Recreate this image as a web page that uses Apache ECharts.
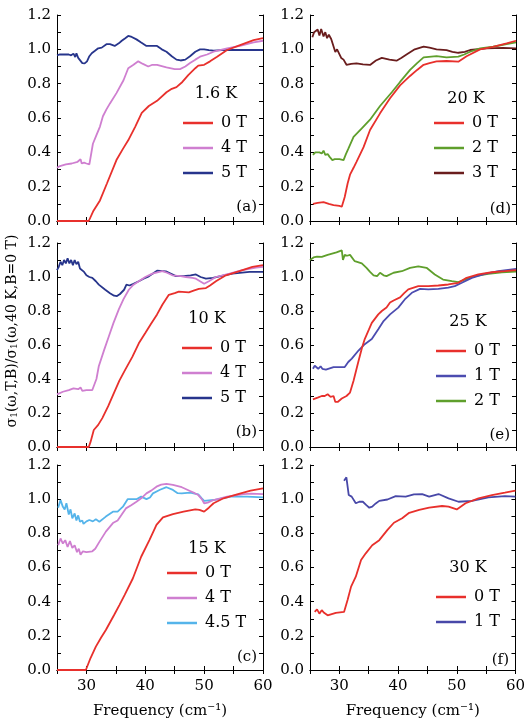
<!DOCTYPE html>
<html>
<head>
<meta charset="utf-8">
<script src="https://cdn.jsdelivr.net/npm/echarts@6/dist/echarts.min.js"></script>
<style>html,body{margin:0;padding:0;background:#fff;}#c{width:528px;height:724px;}</style>
</head>
<body>
<div id="c"></div>
<script>
// ---------- data (frequency cm^-1, normalized sigma1) ----------
const a0 = [[25,0],[30.4,0],[31.2,0.06],[32.3,0.12],[33.5,0.22],[35.1,0.355],[36.2,0.42],[37.1,0.47],[38.3,0.55],[39.4,0.63],[40.6,0.67],[42,0.70],[43.6,0.75],[44.5,0.77],[45.3,0.78],[46.3,0.81],[47.3,0.85],[48.5,0.89],[49,0.905],[50,0.91],[51,0.93],[52.2,0.957],[53.9,0.996],[56.1,1.025],[58.4,1.054],[60,1.065]];
const a4 = [[25,0.31],[25.5,0.32],[26.5,0.33],[27.5,0.335],[28.5,0.345],[29,0.36],[29.2,0.335],[29.6,0.34],[30,0.335],[30.5,0.33],[31.1,0.45],[31.7,0.5],[32.3,0.55],[32.8,0.61],[33.4,0.65],[34,0.685],[35.1,0.745],[36.3,0.82],[37.1,0.89],[38,0.91],[38.8,0.93],[39.6,0.915],[40.5,0.90],[41.2,0.91],[42,0.91],[43.6,0.895],[45,0.885],[45.9,0.885],[46.8,0.9],[47.6,0.92],[48.5,0.94],[49.3,0.957],[50.5,0.97],[51.6,0.986],[53.9,1.005],[56.1,1.02],[58.4,1.04],[60,1.05]];
const a5 = [[25,0.965],[25.5,0.97],[27,0.97],[27.4,0.965],[27.8,0.975],[28.1,0.955],[28.3,0.977],[28.6,0.95],[28.9,0.948],[29.3,0.92],[29.7,0.918],[30.1,0.93],[30.5,0.96],[30.9,0.977],[31.4,0.99],[32,1.006],[32.6,1.01],[33.4,1.03],[34,1.03],[34.8,1.02],[35.5,1.035],[36,1.05],[36.6,1.065],[37.1,1.078],[37.7,1.072],[38.5,1.058],[39.3,1.04],[40.2,1.02],[41,1.02],[42,1.02],[42.8,1.0],[43.6,0.986],[44.5,0.96],[45.3,0.94],[46,0.935],[46.8,0.94],[47.6,0.96],[48.5,0.986],[49.3,1.0],[50,1.0],[50.8,0.995],[51.6,0.992],[53,0.995],[55,0.996],[60,0.996]];

const b0 = [[25,0],[30.4,0],[30.7,0.03],[31.25,0.10],[32,0.13],[32.7,0.17],[33.7,0.24],[34.7,0.32],[35.6,0.39],[36.6,0.455],[37.8,0.53],[38.9,0.61],[40,0.67],[40.9,0.72],[42,0.78],[42.9,0.837],[44,0.895],[45,0.905],[45.7,0.914],[47.4,0.91],[48.2,0.92],[49.1,0.93],[50.3,0.935],[51,0.95],[52,0.975],[53.7,1.01],[56,1.035],[58.2,1.06],[60,1.07]];
const b4 = [[25,0.31],[26,0.325],[27,0.335],[27.8,0.345],[28.1,0.355],[28.6,0.34],[29,0.35],[29.3,0.33],[30,0.335],[31,0.335],[31.3,0.34],[31.7,0.40],[32.1,0.475],[33,0.57],[33.8,0.65],[34.6,0.73],[35.5,0.81],[36.3,0.87],[37.2,0.925],[38,0.955],[38.9,0.975],[40,1.0],[41.2,1.02],[42.9,1.035],[43.7,1.025],[44.6,1.01],[46,1.005],[46.9,1.0],[48,0.995],[48.6,0.99],[49.3,0.975],[50,0.96],[50.8,0.975],[52,1.0],[54.3,1.02],[56.5,1.04],[58.8,1.055],[60,1.06]];
const b5 = [[25,1.04],[25.3,1.06],[25.6,1.09],[25.9,1.07],[26.2,1.10],[26.5,1.08],[26.8,1.11],[27.1,1.08],[27.4,1.10],[27.7,1.07],[28,1.10],[28.3,1.075],[28.6,1.09],[28.9,1.05],[29.2,1.06],[29.6,1.03],[30,1.01],[30.5,1.0],[31,0.995],[31.6,0.975],[32.1,0.955],[33.2,0.925],[34,0.905],[34.7,0.89],[35.2,0.888],[35.7,0.9],[36.4,0.925],[36.8,0.955],[37.3,0.95],[38,0.96],[38.9,0.975],[39.7,0.99],[40.6,1.004],[41.3,1.02],[42,1.037],[43.5,1.033],[44.3,1.02],[45.2,1.005],[46.5,1.005],[47.7,1.01],[48.6,1.015],[49.4,1.0],[50.3,0.99],[51.5,0.995],[52.6,1.004],[54.8,1.02],[57.7,1.03],[60,1.03]];

const c0 = [[25,0],[29.9,0],[30.7,0.07],[31.6,0.137],[32.5,0.19],[33.3,0.234],[34.7,0.322],[35.6,0.38],[36.5,0.44],[37.9,0.537],[38.6,0.6],[39.3,0.663],[40.7,0.76],[41.9,0.85],[43,0.893],[44.7,0.913],[46.5,0.927],[48.5,0.94],[49.2,0.937],[50,0.927],[50.8,0.95],[51.6,0.976],[53.3,1.005],[55.6,1.028],[57.9,1.05],[60,1.063]];
const c4 = [[25.2,0.73],[25.6,0.77],[26,0.74],[26.4,0.76],[26.8,0.72],[27.2,0.755],[27.6,0.715],[28,0.73],[28.4,0.69],[28.7,0.71],[29,0.675],[29.4,0.695],[30,0.69],[31,0.695],[31.5,0.71],[32.2,0.75],[33.3,0.81],[34.5,0.86],[35.3,0.875],[36,0.91],[36.7,0.946],[37.6,0.965],[38.5,0.985],[39.3,1.005],[40.2,1.034],[41,1.05],[41.9,1.073],[42.7,1.085],[43.6,1.09],[44.7,1.083],[46.2,1.07],[47.6,1.048],[48.4,1.035],[49,1.024],[49.6,1.0],[50,0.976],[50.6,0.98],[51.6,0.995],[53.9,1.015],[56.7,1.03],[58,1.032],[60,1.03]];
const c45 = [[25.2,0.95],[25.6,0.995],[26,0.955],[26.3,0.94],[26.6,0.976],[27,0.91],[27.3,0.94],[27.6,0.888],[28,0.917],[28.3,0.875],[28.6,0.905],[28.9,0.868],[29.3,0.875],[29.5,0.855],[30,0.87],[30.5,0.878],[31.1,0.87],[31.6,0.882],[32.2,0.868],[33.3,0.898],[34,0.915],[34.5,0.927],[35.3,0.927],[36.2,0.956],[37,1.0],[38.5,1.0],[39.3,1.015],[40.2,1.0],[40.8,1.01],[41.3,1.034],[42.5,1.055],[43.6,1.07],[44.7,1.054],[45.5,1.035],[46.2,1.034],[47.6,1.038],[49,1.028],[49.6,1.005],[50,0.99],[51.6,0.995],[54.5,1.015],[57.3,1.015],[60,1.01]];

const d0 = [[25.5,0.10],[26.3,0.105],[27.3,0.11],[28.2,0.1],[29,0.093],[30,0.088],[30.4,0.083],[30.9,0.14],[31.4,0.22],[31.8,0.27],[32.4,0.31],[32.9,0.345],[34.1,0.43],[35.2,0.53],[36.9,0.627],[38.6,0.715],[40.3,0.79],[42,0.845],[43.2,0.88],[44.3,0.91],[45.3,0.92],[46.5,0.93],[48.2,0.932],[50.2,0.928],[51.6,0.96],[53.9,1.0],[56.1,1.015],[58.4,1.035],[60,1.05]];
const d2 = [[25.5,0.385],[25.9,0.40],[26.2,0.395],[26.6,0.40],[27,0.393],[27.3,0.41],[27.6,0.385],[28,0.39],[28.3,0.375],[28.6,0.383],[28.8,0.355],[29.2,0.36],[30,0.36],[30.7,0.355],[31.1,0.39],[31.5,0.42],[32.4,0.49],[33.8,0.54],[35.2,0.59],[36.9,0.67],[38.9,0.75],[40.3,0.81],[42,0.88],[43.2,0.92],[44.3,0.953],[46.5,0.96],[48.2,0.953],[50.2,0.957],[51.2,0.97],[52.2,0.986],[53.9,1.005],[56.1,1.015],[58.4,1.03],[60,1.04]];
const d3 = [[25.4,1.07],[25.7,1.10],[26,1.09],[26.3,1.115],[26.6,1.08],[26.9,1.118],[27.3,1.075],[27.6,1.10],[27.9,1.065],[28.2,1.085],[28.6,1.06],[28.9,1.065],[29.3,0.985],[29.6,1.0],[29.9,1.01],[30.3,0.95],[30.7,0.94],[31.2,0.91],[32,0.915],[32.9,0.918],[34,0.912],[35.2,0.909],[36.2,0.935],[37.2,0.95],[38.5,0.94],[39.7,0.934],[40.5,0.95],[41.4,0.97],[42.8,1.0],[44.3,1.016],[45.3,1.01],[46.5,1.0],[48.2,0.995],[49.2,0.985],[50.2,0.98],[51.3,0.985],[52.2,0.996],[55,1.006],[57.8,1.008],[60,1.006]];

const e0 = [[25.5,0.28],[26.3,0.29],[27,0.30],[27.5,0.30],[28,0.31],[28.5,0.295],[29,0.30],[29.3,0.265],[29.7,0.265],[30.4,0.285],[31.2,0.30],[31.8,0.32],[32.4,0.39],[33.2,0.50],[33.8,0.58],[34.3,0.635],[35,0.69],[35.5,0.73],[36.6,0.78],[37.2,0.80],[38,0.82],[38.6,0.85],[39.2,0.862],[40.3,0.88],[41,0.905],[41.7,0.927],[43.4,0.946],[45.1,0.946],[46.8,0.95],[48.5,0.956],[50.2,0.966],[51.6,0.995],[53.6,1.015],[55.9,1.028],[58.1,1.034],[60,1.04]];
const e1 = [[25.5,0.46],[25.8,0.478],[26.1,0.488],[26.4,0.46],[26.8,0.475],[27.1,0.46],[27.4,0.47],[27.7,0.455],[28,0.465],[29,0.47],[30,0.47],[30.9,0.47],[31.5,0.50],[32.1,0.52],[33.2,0.566],[34.3,0.605],[35.5,0.635],[36.6,0.693],[37.5,0.741],[38.6,0.78],[40,0.82],[41.1,0.868],[42.3,0.907],[43.7,0.93],[45.1,0.927],[46.8,0.93],[48.5,0.937],[49.6,0.946],[50.8,0.966],[52.5,0.995],[54.7,1.018],[57,1.034],[60,1.048]];
const e2 = [[25,1.10],[25.6,1.115],[26.2,1.12],[27,1.118],[28,1.13],[29.5,1.145],[30.4,1.157],[30.6,1.10],[30.9,1.13],[31.3,1.125],[31.8,1.13],[32.6,1.093],[33.8,1.08],[34.6,1.054],[35.2,1.03],[35.8,1.01],[36.4,1.005],[36.9,1.025],[37.5,1.01],[38,1.005],[39.2,1.025],[40.6,1.034],[42,1.054],[43.4,1.063],[44.8,1.054],[46.2,1.015],[47.6,0.985],[49.1,0.976],[50.2,0.97],[51.3,0.985],[53,1.005],[55.3,1.018],[57.6,1.028],[60,1.032]];

const f0 = [[25.8,0.34],[26.2,0.355],[26.6,0.33],[27,0.35],[27.4,0.335],[27.7,0.345],[28,0.32],[29.4,0.335],[30.8,0.34],[31.4,0.41],[32,0.488],[32.8,0.546],[33.7,0.644],[34.5,0.683],[35.6,0.73],[36.8,0.76],[38.2,0.82],[39.3,0.862],[40.7,0.888],[41.9,0.92],[43.6,0.937],[45.3,0.95],[47.5,0.96],[48.6,0.956],[50,0.94],[51.5,0.976],[53.7,1.005],[56,1.024],[58.2,1.038],[60,1.05]];
const f1 = [[30.8,1.108],[31.2,1.128],[31.6,1.024],[32.1,1.015],[32.8,0.976],[33.4,0.985],[34,0.985],[34.6,0.965],[35.1,0.95],[35.6,0.956],[36.2,0.975],[36.8,0.99],[38.2,0.998],[39.6,1.018],[41.3,1.015],[42.7,1.028],[44.1,1.03],[45.3,1.015],[46.9,1.03],[48.6,1.005],[50.3,0.985],[52.6,0.99],[55.4,1.01],[58.2,1.018],[60,1.015]];

const temps = ['1.6 K','10 K','15 K','20 K','25 K','30 K'];
const letters = ['(a)','(b)','(c)','(d)','(e)','(f)'];
const fields = [['0 T','4 T','5 T'],['0 T','4 T','5 T'],['0 T','4 T','4.5 T'],['0 T','2 T','3 T'],['0 T','1 T','2 T'],['0 T','1 T']];
const panelData = [[a0,a4,a5],[b0,b4,b5],[c0,c4,c45],[d0,d2,d3],[e0,e1,e2],[f0,f1]];
const xTicks = [25,60,5];
const yTicks = [0,1.2,0.1];
const xTitle = 'Frequency (cm\u207B\u00B9)';
const yTitle = 'σ{sub|1}(ω,T,B)/σ{sub|1}(ω,40 K,B=0 T)';

// ---------- styles / layout ----------
const colors = [
  ['#e8302c','#cf7fd0','#27358c'],
  ['#e8302c','#cf7fd0','#27358c'],
  ['#e8302c','#cf7fd0','#55b4ea'],
  ['#e8302c','#5f9f2c','#6a1d1d'],
  ['#e8302c','#4c4cb0','#5f9f2c'],
  ['#e8302c','#4848a8']
];
const FONT = '"DejaVu Serif", "Liberation Serif", serif';
const gridLeft = [57,57,57,310,310,310];
const gridTop = [15,243,465,15,243,465];
const gridH = [206,204,205,206,204,205];
const gridW = 206;
const legendPos = [[183,115],[182,340],[167,565],[434,115],[436,343],[436,589]];
const tempPos = [[216,94],[207,319],[207,549],[466,99],[468,322],[468,568]];
const letterPos = [[257,207],[257,432],[257,657],[511,209],[510,435],[509,660]];

const grids=[], xAxes=[], yAxes=[], series=[], legends=[], graphics=[];
for (let i=0;i<6;i++){
  const bottomRow = (i===2 || i===5);
  grids.push({left:gridLeft[i], top:gridTop[i], width:gridW, height:gridH[i], containLabel:false});
  const tick = {inside:true, length:4, lineStyle:{color:'#000', width:1}};
  const line = {show:true, lineStyle:{color:'#000', width:1}};
  xAxes.push({
    gridIndex:i, type:'value', position:'bottom', min:xTicks[0], max:xTicks[1], interval:xTicks[2],
    axisLine:line, axisTick:tick, splitLine:{show:false},
    axisLabel:{show:bottomRow, color:'#000', fontFamily:FONT, fontSize:15, margin:9,
      formatter:v => (v%10===0 ? String(v) : '')},
    name: bottomRow ? xTitle : '',
    nameLocation:'middle', nameGap:34,
    nameTextStyle:{color:'#000', fontFamily:FONT, fontSize:15}
  });
  xAxes.push({
    gridIndex:i, type:'value', position:'top', min:xTicks[0], max:xTicks[1], interval:xTicks[2],
    axisLine:line, axisTick:tick, axisLabel:{show:false}, splitLine:{show:false}
  });
  yAxes.push({
    gridIndex:i, type:'value', position:'left', min:yTicks[0], max:yTicks[1], interval:yTicks[2],
    axisLine:line, axisTick:tick, splitLine:{show:false},
    axisLabel:{color:'#000', fontFamily:FONT, fontSize:15, margin:6,
      formatter:v => (Math.round(v*10)%2===0 ? v.toFixed(1) : '')}
  });
  yAxes.push({
    gridIndex:i, type:'value', position:'right', min:yTicks[0], max:yTicks[1], interval:yTicks[2],
    axisLine:line, axisTick:tick, axisLabel:{show:false}, splitLine:{show:false}
  });
  const names=[];
  panelData[i].forEach((d,k)=>{
    const nm = temps[i]+'|'+fields[i][k];
    names.push(nm);
    series.push({
      name:nm, type:'line', xAxisIndex:2*i, yAxisIndex:2*i, data:d,
      showSymbol:false, symbol:'none', smooth:false, animation:false,
      lineStyle:{color:colors[i][k], width:1.8}, itemStyle:{color:colors[i][k]}, z: 3-k
    });
  });
  legends.push({
    data:names, orient:'vertical', left:legendPos[i][0], top:legendPos[i][1], padding:0,
    itemWidth:30, itemHeight:2.5, icon:'rect', itemGap:9, selectedMode:false,
    formatter:n => n.split('|')[1],
    textStyle:{color:'#000', fontFamily:FONT, fontSize:16, lineHeight:16, padding:[0,0,0,3]}
  });
  graphics.push({type:'text', x:tempPos[i][0], y:tempPos[i][1],
    style:{text:temps[i], fill:'#000', font:'16px '+FONT, align:'center', verticalAlign:'middle'}});
  graphics.push({type:'text', x:letterPos[i][0], y:letterPos[i][1],
    style:{text:letters[i], fill:'#000', font:'15px '+FONT, align:'right', verticalAlign:'middle'}});
}
graphics.push({type:'text', x:12, y:331, rotation:Math.PI/2,
  style:{text:yTitle, fill:'#000', font:'14px '+FONT,
    align:'center', verticalAlign:'middle',
    rich:{sub:{fontSize:9, fontFamily:FONT, fill:'#000', verticalAlign:'bottom', padding:[6,0,0,0]}}}});

const chart = echarts.init(document.getElementById('c'), null, {renderer:'canvas'});
chart.setOption({
  animation:false, backgroundColor:'#fff',
  grid:grids, xAxis:xAxes, yAxis:yAxes, series:series, legend:legends, graphic:graphics
});
</script>
</body>
</html>
